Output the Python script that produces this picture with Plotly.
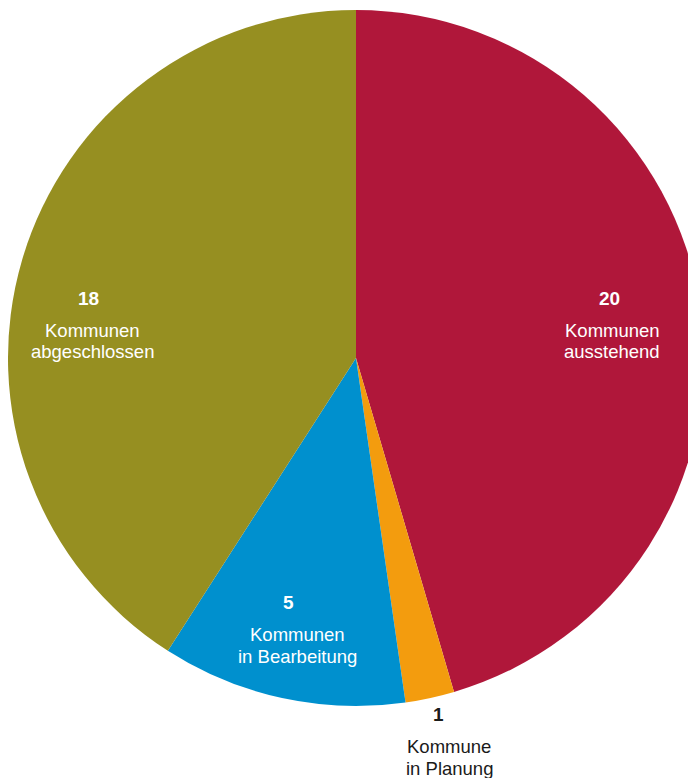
import plotly.graph_objects as go

categories = ["ausstehend", "in Planung", "in Bearbeitung", "abgeschlossen"]
values = [20, 1, 5, 18]
colors = ["#B0173A", "#F39C0E", "#0090CE", "#968F21"]
label_lines = [["Kommunen", "ausstehend"], ["Kommune", "in Planung"],
               ["Kommunen", "in Bearbeitung"], ["Kommunen", "abgeschlossen"]]
# label anchor positions (pixels from top-left of the page) for number and text lines
label_pos = [(609, 298), (439, 714), (288, 602), (88, 298)]
text_dx = [3, 10, 9, 4]
label_colors = ["white", "#1a1a1a", "white", "white"]

PAGE_OFF = 8  # default body margin of the page
W, H = 696, 778 - PAGE_OFF

cy = 358 - PAGE_OFF
r = W / 2
fig = go.Figure(go.Pie(
    labels=categories, values=values, sort=False, direction="clockwise",
    rotation=0, marker=dict(colors=colors, line=dict(width=0)),
    textinfo="none", hoverinfo="label+value", showlegend=False,
    domain=dict(x=[0, 1], y=[(H - cy - r) / H, (H - cy + r) / H]),
))

ann = []
for i, v in enumerate(values):
    x, y = label_pos[i]
    x -= PAGE_OFF
    y -= PAGE_OFF
    ann.append(dict(x=x / W, y=1 - y / H, xref="paper", yref="paper",
                    text=f"<b>{v}</b>", showarrow=False,
                    font=dict(family="Liberation Sans, Arial", size=19, color=label_colors[i]),
                    xanchor="center", yanchor="middle"))
    for j, line in enumerate(label_lines[i]):
        ann.append(dict(x=(x + text_dx[i]) / W, y=1 - (y + 32 + 22 * j) / H,
                        xref="paper", yref="paper", text=line, showarrow=False,
                        font=dict(family="Liberation Sans, Arial", size=18.5, color=label_colors[i]),
                        xanchor="center", yanchor="middle"))

fig.update_layout(width=W, height=H, margin=dict(l=0, r=0, t=0, b=0),
                  paper_bgcolor="white", plot_bgcolor="white", annotations=ann)
fig.write_html("out.html")
